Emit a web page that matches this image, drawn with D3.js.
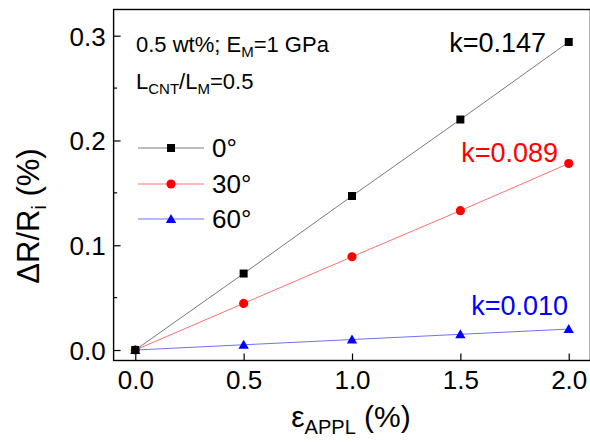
<!DOCTYPE html>
<html><head><meta charset="utf-8">
<script src="https://cdn.jsdelivr.net/npm/d3@7"></script>
<style>
html,body{margin:0;padding:0;background:#fff;}
text{font-family:"Liberation Sans",Arial,sans-serif;}
</style></head>
<body>
<svg id="c" width="590" height="443"></svg>
<script>
const strain = [0, 0.5, 1.0, 1.5, 2.0];
const angles = ["0°", "30°", "60°"];
const deg0 = [0, 0.073, 0.147, 0.220, 0.294];
const deg30 = [0, 0.0445, 0.089, 0.133, 0.178];
const deg60 = [0, 0.005, 0.010, 0.015, 0.020];
const slopes = ["k=0.147", "k=0.089", "k=0.010"];
const xTicks = [0, 0.5, 1.0, 1.5, 2.0];
const yTicks = [0, 0.1, 0.2, 0.3];
const yMinor = [0.05, 0.15, 0.25];

const svg = d3.select("#c");
const x = d3.scaleLinear().domain([-0.1, 2.1]).range([113.6, 590.4]);
const y = d3.scaleLinear().domain([-0.01, 0.325]).range([360.5, 9.5]);

const series = [
  {name: angles[0], vals: deg0, color: "#000", line: "#7a7a7a", sym: d3.symbolSquare, size: 64, k: slopes[0], kx: 546, ky: 52},
  {name: angles[1], vals: deg30, color: "#ff0000", line: "#ff7070", sym: d3.symbolCircle, size: 66, k: slopes[1], kx: 558, ky: 162},
  {name: angles[2], vals: deg60, color: "#0000ff", line: "#7070ff", sym: d3.symbolTriangle, size: 46, k: slopes[2], kx: 568, ky: 315}
];

// ticks (inward)
const xAxis = d3.axisBottom(x).tickValues(xTicks).tickSizeInner(-7).tickSizeOuter(0).tickFormat(d3.format(".1f")).tickPadding(12);
const gx = svg.append("g").attr("transform", `translate(0,${y(-0.01)})`).call(xAxis);
gx.select(".domain").remove();
gx.selectAll("line").attr("stroke", "#000").attr("stroke-width", 1.2);
gx.selectAll("text").attr("font-size", 26).attr("fill", "#000").attr("dy", "0.72em").attr("y", 10);

const yAxis = d3.axisLeft(y).tickValues(yTicks).tickSizeInner(-7).tickSizeOuter(0).tickFormat(d3.format(".1f")).tickPadding(9);
const gy = svg.append("g").attr("transform", `translate(${x(-0.1)},0)`).call(yAxis);
gy.select(".domain").remove();
gy.selectAll("line").attr("stroke", "#000").attr("stroke-width", 1.2);
gy.selectAll("text").attr("font-size", 26).attr("fill", "#000").attr("x", -8).attr("dy", "0.36em");

svg.append("g").selectAll("line").data(yMinor).join("line")
  .attr("x1", x(-0.1)).attr("x2", x(-0.1) + 3.5)
  .attr("y1", d => y(d)).attr("y2", d => y(d))
  .attr("stroke", "#000").attr("stroke-width", 1.2);

// frame
svg.append("rect")
  .attr("x", x(-0.1)).attr("y", y(0.325))
  .attr("width", x(2.1) - x(-0.1)).attr("height", y(-0.01) - y(0.325))
  .attr("fill", "none").attr("stroke", "#000").attr("stroke-width", 1.4);

// lines and markers
const line = d3.line().x((d, i) => x(strain[i])).y(d => y(d));
series.forEach(s => {
  svg.append("path").attr("d", line(s.vals)).attr("fill", "none")
    .attr("stroke", s.line).attr("stroke-width", 1);
});
series.slice().reverse().forEach(s => {
  svg.append("g").selectAll("path").data(s.vals).join("path")
    .attr("d", d3.symbol().type(s.sym).size(s.size))
    .attr("transform", (d, i) => `translate(${x(strain[i])},${y(d) + (s.sym === d3.symbolTriangle ? 1 : 0)})`)
    .attr("fill", s.color);
});

// slope labels
series.forEach(s => {
  svg.append("text").attr("x", s.kx).attr("y", s.ky).attr("text-anchor", "end")
    .attr("font-size", 27).attr("fill", s.color).text(s.k);
});

// legend
const legY = [148, 184, 219];
series.forEach((s, i) => {
  const g = svg.append("g").attr("transform", `translate(0,${legY[i]})`);
  g.append("line").attr("x1", 138).attr("x2", 204).attr("y1", 0).attr("y2", 0)
    .attr("stroke", s.line).attr("stroke-width", 1);
  g.append("path").attr("d", d3.symbol().type(s.sym).size(s.size)).attr("fill", s.color)
    .attr("transform", `translate(171,${s.sym === d3.symbolTriangle ? 1 : 0})`);
  g.append("text").attr("x", 212).attr("y", 0).attr("dy", "0.36em")
    .attr("font-size", 26).attr("fill", "#000").text(s.name);
});

// annotation
const a1 = svg.append("text").attr("x", 136).attr("y", 52).attr("font-size", 22).attr("fill", "#000");
a1.append("tspan").text("0.5 wt%; E");
a1.append("tspan").attr("font-size", 15).attr("dy", 5).text("M");
a1.append("tspan").attr("dy", -5).text("=1 GPa");
const a2 = svg.append("text").attr("x", 136).attr("y", 89).attr("font-size", 22).attr("fill", "#000");
a2.append("tspan").text("L");
a2.append("tspan").attr("font-size", 15).attr("dy", 5).text("CNT");
a2.append("tspan").attr("dy", -5).text("/L");
a2.append("tspan").attr("font-size", 15).attr("dy", 5).text("M");
a2.append("tspan").attr("dy", -5).text("=0.5");

// axis titles
const xt = svg.append("text").attr("x", 351).attr("y", 427).attr("text-anchor", "middle")
  .attr("font-size", 30).attr("fill", "#000");
xt.append("tspan").text("ε");
xt.append("tspan").attr("font-size", 20).attr("dy", 7).text("APPL");
xt.append("tspan").attr("dy", -7).text(" (%)");

const yt = svg.append("text").attr("transform", "translate(39,216) rotate(-90)")
  .attr("text-anchor", "middle").attr("font-size", 31).attr("fill", "#000");
yt.append("tspan").text("ΔR/R");
yt.append("tspan").attr("font-size", 20).attr("dy", 7).text("i");
yt.append("tspan").attr("dy", -7).text(" (%)");
</script>
</body></html>
